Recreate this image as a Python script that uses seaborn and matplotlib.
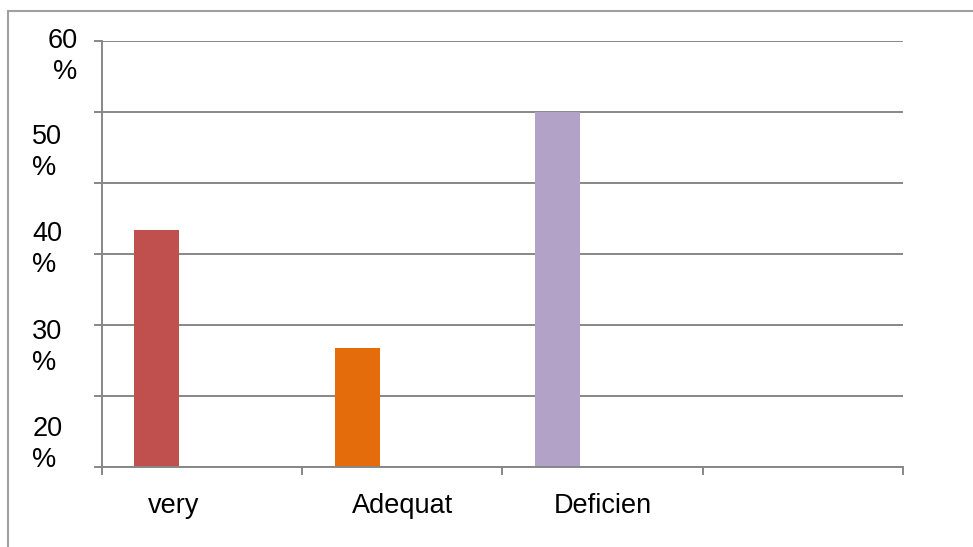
import numpy as np
import pandas as pd
import matplotlib
matplotlib.use("Agg")
import matplotlib.pyplot as plt
from matplotlib.patches import Rectangle
import seaborn as sns

# Category data
categories = ["very", "Adequat", "Deficien", ""]
values = [42.2, 31.1, 53.3]
bar_colors = ["#C0504D", "#E46C0A", "#B3A2C7"]
series_names = ["Series1", "Series2", "Series3"]

# Axis text
ytick_labels = ["60\n%", "50\n%", "40\n%", "30\n%", "20\n%"]
ytick_label_pos = [58.5, 49.5, 40.4, 31.2, 22.1]
xtick_label_pos = [-0.14, 1.0, 2.0]

sns.set_theme(style="white")
plt.rcParams["font.family"] = ["Liberation Sans", "DejaVu Sans"]

GRAY = "#878787"
FS = 19.5

df = pd.DataFrame({
    "category": categories[:len(values)],
    "value": values,
    "series": [series_names[0]] * len(values),
})

fig = plt.figure(figsize=(9.73, 5.47), dpi=100)
ax = fig.add_axes([101.7 / 973, 1 - 466.7 / 547, (903.3 - 101.7) / 973, (466.7 - 40.7) / 547])

sns.barplot(data=df, x="category", y="value", hue="series",
            order=categories, hue_order=series_names,
            width=0.674, dodge=True, palette=["#C0504D"] * 3,
            legend=False, ax=ax, errorbar=None, saturation=1)

for patch, c in zip(ax.patches, bar_colors):
    patch.set_facecolor(c)
    patch.set_edgecolor("none")

# Value axis
ax.set_ylim(20, 60)
grid_vals = np.linspace(20, 60, 7)
ax.set_yticks(grid_vals)
ax.set_yticklabels([""] * len(grid_vals))
ax.yaxis.grid(True, color=GRAY, linewidth=1.4)
ax.tick_params(axis="y", which="major", left=True, length=6, width=1.4, color=GRAY)
ax.set_ylabel("")

for lab, y in zip(ytick_labels, ytick_label_pos):
    if lab.startswith("60"):
        ax.text(-0.0305, y, lab, transform=ax.get_yaxis_transform(),
                ha="right", va="center", fontsize=FS, color="black",
                linespacing=1.25, multialignment="right")
    else:
        ax.text(-0.0865, y, lab, transform=ax.get_yaxis_transform(),
                ha="left", va="center", fontsize=FS, color="black",
                linespacing=1.25, multialignment="left")

# Category axis
ax.set_xlim(-0.5, len(categories) - 0.5)
ax.set_xticks(xtick_label_pos, labels=categories[:3])
ax.set_xticks(np.arange(-0.5, len(categories), 1.0), minor=True)
ax.tick_params(axis="x", which="major", length=0, pad=19, labelsize=FS, labelcolor="black")
ax.tick_params(axis="x", which="minor", bottom=True, length=5.5, width=1.4, color=GRAY)
ax.set_xlabel("")

for side in ["top", "right"]:
    ax.spines[side].set_visible(False)
for side in ["left", "bottom"]:
    ax.spines[side].set_color(GRAY)
    ax.spines[side].set_linewidth(1.4)

# Chart area border, running off the right and bottom edges
top = 1 - 11 / 547
fig.patches.append(Rectangle((7.5 / 973, -0.2), 1.2, top + 0.2,
                             transform=fig.transFigure, fill=False,
                             edgecolor="#A0A0A0", linewidth=1.5))

fig.savefig("out.png", dpi=100)
